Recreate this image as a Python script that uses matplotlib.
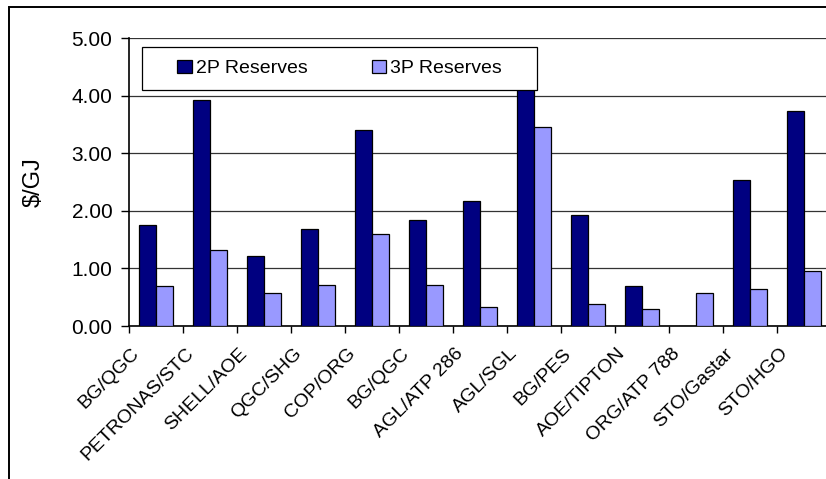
"""Cost per GJ of 2P and 3P reserves by deal, grouped bar chart."""
import numpy as np
import matplotlib

matplotlib.use("Agg")
import matplotlib.pyplot as plt  # noqa: E402
from matplotlib.patches import Rectangle  # noqa: E402
from matplotlib.transforms import ScaledTranslation  # noqa: E402

plt.rcParams["font.family"] = ["Liberation Sans", "DejaVu Sans"]

deals = ["BG/QGC", "PETRONAS/STC", "SHELL/AOE", "QGC/SHG", "COP/ORG", "BG/QGC",
         "AGL/ATP 286", "AGL/SGL", "BG/PES", "AOE/TIPTON", "ORG/ATP 788",
         "STO/Gastar", "STO/HGO"]
reserves_2p = [1.75, 3.93, 1.22, 1.68, 3.40, 1.84, 2.17, 4.35, 1.93, 0.70, 0.0, 2.53, 3.73]
reserves_3p = [0.70, 1.32, 0.57, 0.72, 1.60, 0.72, 0.33, 3.46, 0.38, 0.30, 0.57, 0.65, 0.95]
y_ticks = [0, 1, 2, 3, 4, 5]

W, H, DPI = 826, 479, 100
fig = plt.figure(figsize=(W / DPI, H / DPI), dpi=DPI)
# plot area in pixel terms: x 129..831, y 38..326 (from top)
ax = fig.add_axes([129 / W, (H - 326) / H, 702 / W, 288 / H])

x = np.arange(len(deals))
bw = 0.31
ax.bar(x - bw / 2, reserves_2p, bw, color="#000080", edgecolor="black",
       linewidth=0.9, label="2P Reserves", zorder=3)
ax.bar(x + bw / 2, reserves_3p, bw, color="#9999FF", edgecolor="black",
       linewidth=0.9, label="3P Reserves", zorder=3)

ax.set_xlim(-0.5, len(deals) - 0.5)
ax.set_ylim(0, 5)
ax.set_yticks(y_ticks)
ax.set_yticklabels([f"{v:.2f}" for v in y_ticks], fontsize=15)
ax.yaxis.grid(True, color="#333333", linewidth=0.9, zorder=0)
ax.set_axisbelow(True)

for side in ("top", "right"):
    ax.spines[side].set_visible(False)
for side in ("left", "bottom"):
    ax.spines[side].set_linewidth(1.2)
ax.tick_params(axis="y", length=6, width=1.0, direction="out", pad=6)

# category boundaries carry the tick marks, centres carry the labels
ax.set_xticks(x)
ax.set_xticks(np.arange(-0.5, len(deals), 1.0), minor=True)
ax.tick_params(axis="x", which="major", length=0, pad=0)
ax.tick_params(axis="x", which="minor", length=5, width=1.0, direction="out")
ax.set_xticklabels(deals, fontsize=14, rotation=45, ha="right", va="center",
                   rotation_mode="anchor")
shift = ScaledTranslation(-19 / DPI, -25 / DPI, fig.dpi_scale_trans)
for lab in ax.get_xticklabels():
    lab.set_transform(lab.get_transform() + shift)

ax.set_ylabel(r"\$/GJ", fontsize=17, va="center")
ax.yaxis.set_label_coords(-0.136, 0.5)

# legend box: own frame so the entries can sit centred inside it
leg_x0, leg_x1, leg_y0, leg_y1 = 0.0185, 0.581, 0.819, 0.969
box = Rectangle((leg_x0, leg_y0), leg_x1 - leg_x0, leg_y1 - leg_y0,
                transform=ax.transAxes, facecolor="white", edgecolor="black",
                linewidth=0.9, zorder=4)
ax.add_patch(box)
leg = ax.legend(loc="center", bbox_to_anchor=((leg_x0 + leg_x1) / 2, (leg_y0 + leg_y1) / 2),
                ncol=2, fontsize=14, frameon=False, handlelength=0.75,
                handleheight=0.65, handletextpad=0.2, columnspacing=3.3,
                borderaxespad=0, borderpad=0)
leg.set_zorder(5)

# outer chart frame
fig.patches.append(Rectangle((9 / W, -0.2), 1.5, 1.2 - 7 / H,
                             transform=fig.transFigure, fill=False,
                             edgecolor="black", linewidth=1.4))

fig.savefig("out.png", dpi=DPI)
